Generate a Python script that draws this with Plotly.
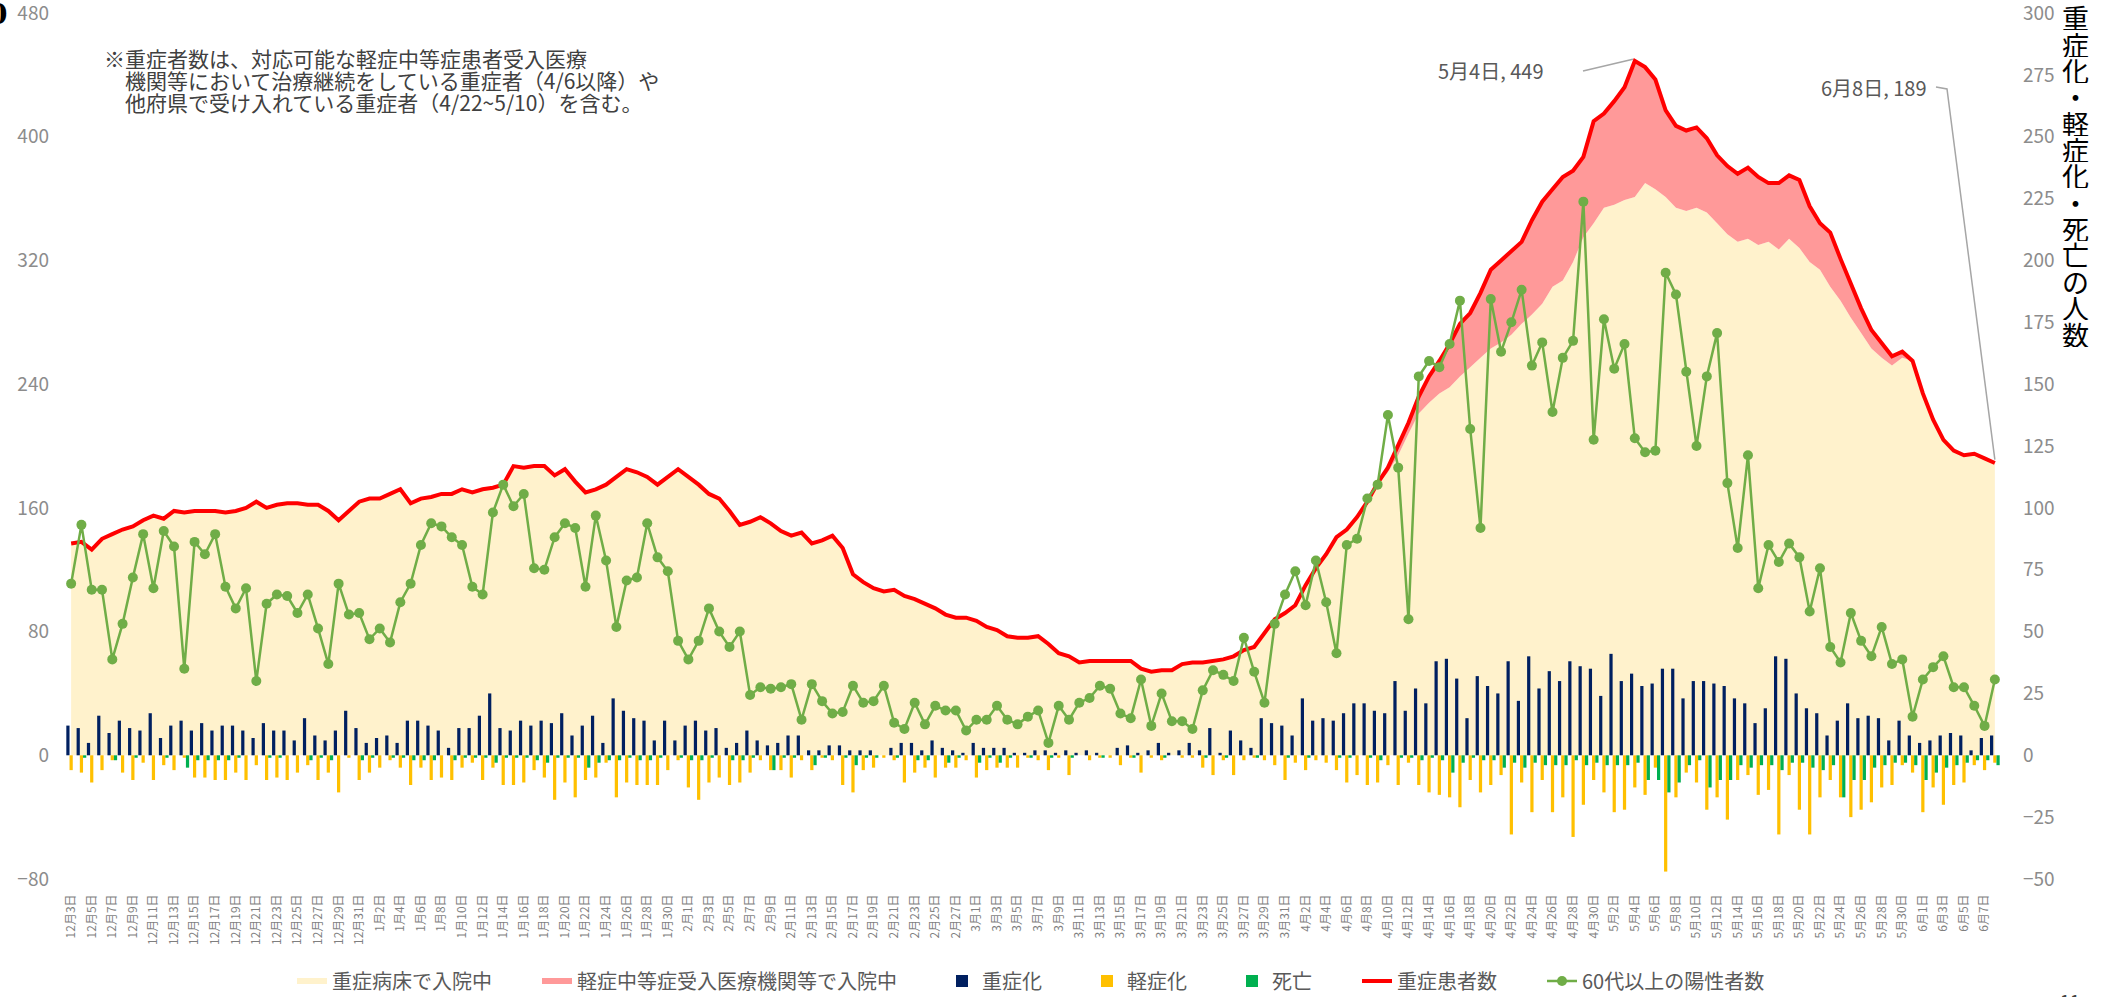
import pandas as pd
import plotly.graph_objects as go

# ---------------- data ----------------
dates = pd.date_range("2020-12-03", "2021-06-08")
categories = [f"{d.month}月{d.day}日" for d in dates]
tick_labels = categories[::2]

# 重症患者数 (left axis)
severe_total = [
    137, 138, 133, 140, 143, 146, 148, 152, 155, 153,
    158, 157, 158, 158, 158, 157, 158, 160, 164, 160,
    162, 163, 163, 162, 162, 158, 152, 158, 164, 166,
    166, 169, 172, 163, 166, 167, 169, 169, 172, 170,
    172, 173, 175, 187, 186, 187, 187, 181, 185, 177,
    170, 172, 175, 180, 185, 183, 180, 175, 180, 185,
    180, 175, 169, 166, 158, 149, 151, 154, 150, 145,
    142, 144, 137, 139, 142, 134, 117, 112, 108, 106,
    107, 103, 101, 98, 95, 91, 89, 89, 87, 83,
    81, 77, 76, 76, 77, 72, 66, 64, 60, 61,
    61, 61, 61, 61, 56, 54, 55, 55, 59, 60,
    60, 61, 62, 64, 68, 70, 79, 88, 92, 97,
    110, 121, 130, 141, 146, 154, 164, 176, 186, 200,
    215, 232, 245, 255, 266, 279, 286, 299, 314, 320,
    326, 332, 346, 358, 366, 374, 378, 387, 410, 415,
    423, 432, 449, 445, 437, 417, 407, 404, 406, 399,
    388, 381, 376, 380, 374, 370, 370, 375, 372, 355,
    344, 338, 321, 305, 289, 275, 267, 258, 261, 255,
    234, 217, 204, 197, 194, 195, 192, 189,
]

# 軽症中等症受入医療機関等で入院中 (part of severe_total)
in_other_hosp = [
    0, 0, 0, 0, 0, 0, 0, 0, 0, 0,
    0, 0, 0, 0, 0, 0, 0, 0, 0, 0,
    0, 0, 0, 0, 0, 0, 0, 0, 0, 0,
    0, 0, 0, 0, 0, 0, 0, 0, 0, 0,
    0, 0, 0, 0, 0, 0, 0, 0, 0, 0,
    0, 0, 0, 0, 0, 0, 0, 0, 0, 0,
    0, 0, 0, 0, 0, 0, 0, 0, 0, 0,
    0, 0, 0, 0, 0, 0, 0, 0, 0, 0,
    0, 0, 0, 0, 0, 0, 0, 0, 0, 0,
    0, 0, 0, 0, 0, 0, 0, 0, 0, 0,
    0, 0, 0, 0, 0, 0, 0, 0, 0, 0,
    0, 0, 0, 0, 0, 0, 0, 0, 0, 0,
    0, 0, 0, 0, 0, 0, 0, 1, 3, 6,
    7, 11, 17, 21, 28, 34, 35, 42, 51, 53,
    54, 53, 61, 66, 63, 67, 59, 52, 66, 61,
    67, 73, 88, 75, 71, 56, 53, 52, 52, 48,
    44, 44, 44, 46, 44, 38, 43, 41, 44, 36,
    30, 35, 27, 22, 16, 12, 10, 6, 4, 0,
    0, 0, 0, 0, 0, 0, 0, 0,
]

# 60代以上の陽性者数 (left axis)
positives_60plus = [
    111, 149, 107, 107, 62, 85, 115, 143, 108, 145,
    135, 56, 138, 130, 143, 109, 95, 108, 48, 98,
    104, 103, 92, 104, 82, 59, 111, 91, 92, 75,
    82, 73, 99, 111, 136, 150, 148, 141, 136, 109,
    104, 157, 175, 161, 169, 121, 120, 141, 150, 147,
    109, 155, 126, 83, 113, 115, 150, 128, 119, 74,
    62, 74, 95, 80, 70, 80, 39, 44, 43, 44,
    46, 23, 46, 35, 27, 28, 45, 34, 35, 45,
    21, 17, 34, 20, 32, 29, 29, 16, 23, 23,
    32, 23, 20, 25, 29, 8, 32, 23, 34, 37,
    45, 43, 27, 24, 49, 19, 40, 22, 22, 17,
    42, 55, 52, 48, 76, 54, 34, 85, 104, 119,
    97, 126, 99, 66, 136, 140, 166, 175, 220, 186,
    88, 245, 255, 251, 266, 294, 211, 147, 295, 261,
    280, 301, 252, 267, 222, 257, 268, 358, 204, 282,
    250, 266, 205, 196, 197, 312, 298, 248, 200, 245,
    273, 176, 134, 194, 108, 136, 125, 137, 128, 93,
    121, 70, 60, 92, 74, 64, 83, 59, 62, 25,
    49, 57, 64, 44, 44, 32, 19, 49,
]

# 重症化 (right axis)
became_severe = [
    12, 11, 5, 16, 9, 14, 11, 10, 17, 7,
    12, 14, 10, 13, 10, 12, 12, 10, 7, 13,
    10, 10, 6, 15, 8, 6, 10, 18, 11, 5,
    7, 8, 5, 14, 14, 12, 10, 3, 11, 11,
    16, 25, 11, 10, 14, 12, 14, 13, 17, 8,
    12, 16, 5, 23, 18, 15, 14, 6, 14, 6,
    12, 14, 10, 11, 3, 5, 10, 6, 4, 5,
    8, 8, 2, 2, 4, 4, 2, 2, 2, 0,
    3, 5, 5, 2, 6, 3, 2, 1, 5, 3,
    3, 3, 1, 1, 2, 2, 1, 2, 1, 2,
    1, 0, 3, 4, 1, 2, 5, 1, 2, 5,
    2, 11, 1, 10, 6, 3, 15, 13, 12, 8,
    23, 14, 15, 14, 17, 21, 21, 18, 17, 30,
    18, 27, 21, 38, 39, 31, 15, 32, 28, 25,
    38, 22, 40, 27, 34, 30, 38, 36, 35, 24,
    41, 30, 33, 28, 29, 35, 35, 23, 30, 30,
    29, 28, 23, 21, 13, 19, 40, 39, 25, 19,
    17, 8, 14, 21, 15, 16, 15, 6, 14, 8,
    5, 6, 8, 9, 8, 2, 7, 8,
]

# 軽症化 (right axis, negative)
became_mild = [
    -6, -7, -11, -6, -2, -7, -10, -3, -10, -4,
    -6, -1, -9, -9, -10, -10, -7, -10, -4, -10,
    -9, -10, -7, -4, -10, -7, -15, -1, -10, -7,
    -5, -2, -5, -12, -5, -10, -9, -10, -5, -3,
    -10, -5, -12, -12, -11, -6, -9, -18, -11, -17,
    -10, -9, -3, -17, -11, -12, -12, -12, -6, -2,
    -13, -18, -11, -9, -12, -11, -7, -2, -6, -6,
    -9, -2, -6, -1, -2, -12, -15, -6, -5, -1,
    -2, -11, -7, -5, -9, -5, -5, -2, -9, -6,
    -5, -5, -5, -1, -2, -6, -1, -8, 0, -2,
    -1, -1, -4, -1, -7, -1, -2, 0, -1, -1,
    -5, -8, -2, -8, -2, -1, -2, -4, -10, -3,
    -6, -2, -3, -6, -11, -8, -12, -11, -4, -12,
    -3, -12, -15, -16, -17, -21, -10, -15, -12, -8,
    -32, -11, -23, -10, -23, -17, -33, -20, -10, -15,
    -23, -22, -13, -16, -5, -47, -17, -7, -11, -22,
    -17, -26, -10, -8, -16, -14, -32, -8, -22, -32,
    -17, -10, -17, -25, -22, -19, -13, -12, -4, -7,
    -23, -13, -20, -12, -11, -4, -6, -3,
]

# 死亡 (right axis, negative)
deaths = [
    0, -1, 0, 0, -2, 0, -1, 0, 0, -1,
    0, -5, -2, -2, -2, -2, -1, 0, 0, -1,
    -1, 0, 0, -2, -1, -2, 0, 0, -2, -1,
    0, -1, -1, -2, -2, -2, 0, -2, -1, -1,
    -1, -3, -1, -1, -1, -2, -3, -1, -1, -1,
    -5, -3, -2, -2, -1, -2, -2, -1, 0, -1,
    -2, -2, -1, 0, -2, -2, -1, 0, -6, -1,
    -1, 0, -4, -1, 0, -1, -4, -1, -1, 0,
    -1, 0, -2, -2, 0, -3, -1, 0, -3, -1,
    -3, -1, 0, -1, 0, -1, 0, -1, 0, 0,
    -1, 0, 0, -1, 0, 0, -1, 0, 0, 0,
    -1, 0, -1, 0, 0, -1, 0, 0, -1, 0,
    -1, 0, 0, -1, -1, 0, -1, -2, 0, -1,
    -1, -2, -1, -2, -7, -3, -1, -2, -2, -5,
    -3, -5, -3, -4, -4, -4, -2, -4, -3, -4,
    -4, -4, -3, -10, -10, -15, -11, -4, -2, -13,
    -10, -10, -4, -5, -4, -4, -6, -3, -3, -5,
    -6, -4, -17, -10, -10, -5, -4, -3, -3, -4,
    -10, -7, -5, -4, -3, -2, -2, -4,
]

series_names = [
    "重症病床で入院中",
    "軽症中等症受入医療機関等で入院中",
    "重症化",
    "軽症化",
    "死亡",
    "重症患者数",
    "60代以上の陽性者数",
]

note_lines = [
    "※重症者数は、対応可能な軽症中等症患者受入医療",
    "　機関等において治療継続をしている重症者（4/6以降）や",
    "　他府県で受け入れている重症者（4/22~5/10）を含む。",
]
right_title = "重症化・軽症化・死亡の人数"

# -------------- derived --------------
in_severe_beds = [t - o for t, o in zip(severe_total, in_other_hosp)]

# -------------- geometry (layout only, page pixels) --------------
W, H = 2105, 997
PLOT_L, PLOT_R, PLOT_T, PLOT_B = 66, 2000, 13, 879
ML, MT, MR, MB = PLOT_L, PLOT_T, W - PLOT_R, H - PLOT_B
PW, PH = PLOT_R - PLOT_L, PLOT_B - PLOT_T
Y1 = (-80, 480)
Y2 = (-50, 300)


def px_x(px):
    return (px - PLOT_L) / PW


def px_y(py):
    return (PLOT_B - py) / PH


FONT = "Noto Sans CJK JP, Noto Sans, sans-serif"
GAP = "\u3000\u3000"  # trailing space between legend entries
legend_names = [n + GAP for n in series_names[:-1]] + [series_names[-1]]

fig = go.Figure()

fig.add_trace(go.Scatter(
    x=categories, y=in_severe_beds, name=legend_names[0],
    stackgroup="beds", mode="none", fillcolor="#FFF2CC", yaxis="y",
))
fig.add_trace(go.Scatter(
    x=categories, y=in_other_hosp, name=legend_names[1],
    stackgroup="beds", mode="none", fillcolor="#FF9999", yaxis="y",
))
fig.add_trace(go.Bar(x=categories, y=became_severe, name=legend_names[2],
                     marker_color="#002060", marker_line_width=0, yaxis="y2"))
fig.add_trace(go.Bar(x=categories, y=became_mild, name=legend_names[3],
                     marker_color="#FFC000", marker_line_width=0, yaxis="y2"))
fig.add_trace(go.Bar(x=categories, y=deaths, name=legend_names[4],
                     marker_color="#00B050", marker_line_width=0, yaxis="y2"))
fig.add_trace(go.Scatter(
    x=categories, y=severe_total, name=legend_names[5], mode="lines",
    line=dict(color="#FF0000", width=4), yaxis="y3",
))
fig.add_trace(go.Scatter(
    x=categories, y=positives_60plus, name=legend_names[6],
    mode="lines+markers", line=dict(color="#70AD47", width=2.5),
    marker=dict(color="#70AD47", size=10), yaxis="y3",
))

annotations = []
for k, line in enumerate(note_lines):
    annotations.append(dict(
        text=line, xref="paper", yref="paper", x=px_x(102), y=px_y(58 + 22 * k),
        xanchor="left", yanchor="middle", showarrow=False,
        font=dict(family=FONT, size=21, color="#404040"),
    ))

# data labels for the peak and the last day
i_peak = severe_total.index(max(severe_total))
i_last = len(severe_total) - 1
lbl_peak = f"{categories[i_peak]}, {severe_total[i_peak]}"
lbl_last = f"{categories[i_last]}, {severe_total[i_last]}"
annotations.append(dict(
    text=lbl_peak, xref="paper", yref="paper", x=px_x(1546), y=px_y(70),
    xanchor="right", yanchor="middle", showarrow=False,
    font=dict(family=FONT, size=20, color="#595959"),
))
annotations.append(dict(
    text=lbl_last, xref="paper", yref="paper", x=px_x(1929), y=px_y(87),
    xanchor="right", yanchor="middle", showarrow=False,
    font=dict(family=FONT, size=20, color="#595959"),
))


def cat_x(i):
    return (i + 0.5) / len(categories)


def val_y(v):
    return (v - Y1[0]) / (Y1[1] - Y1[0])


shapes = [
    dict(type="path", xref="paper", yref="paper",
         path=f"M{px_x(1583)},{px_y(71)} L{cat_x(i_peak) - 0.001},{val_y(severe_total[i_peak]) + 0.002}",
         line=dict(color="#A6A6A6", width=1.5)),
    dict(type="path", xref="paper", yref="paper",
         path=(f"M{px_x(1936)},{px_y(87)} L{px_x(1947)},{px_y(89)} "
               f"L{cat_x(i_last)},{val_y(severe_total[i_last]) + 0.004}"),
         line=dict(color="#A6A6A6", width=1.5)),
]

# right axis title written vertically, one character per line
title_top, title_bottom = 18, 334
pitch = (title_bottom - title_top) / (len(right_title) - 1)
for k, ch in enumerate(right_title):
    annotations.append(dict(
        text=ch, xref="paper", yref="paper", x=px_x(2075), y=px_y(title_top + pitch * k),
        xanchor="center", yanchor="middle", showarrow=False,
        height=25, borderpad=0, valign="middle",
        font=dict(family=FONT, size=27, color="#000000"),
    ))

# cut-off glyph at top-left and page number
annotations.append(dict(
    text="<b>0</b>", xref="paper", yref="paper", x=px_x(9), y=px_y(15),
    xanchor="right", yanchor="middle", showarrow=False,
    font=dict(family="DejaVu Serif", size=28, color="#000000"),
))
annotations.append(dict(
    text="11", xref="paper", yref="paper", x=px_x(2070), y=px_y(985),
    xanchor="center", yanchor="top", showarrow=False,
    font=dict(family=FONT, size=18, color="#404040"),
))

fig.update_layout(
    width=W, height=H,
    margin=dict(l=ML, r=MR, t=MT, b=MB, pad=0, autoexpand=False),
    paper_bgcolor="white", plot_bgcolor="white",
    font=dict(family=FONT),
    barmode="group", bargap=0.06, bargroupgap=0,
    showlegend=True,
    legend=dict(
        orientation="h", x=px_x(292), xanchor="left",
        y=px_y(981), yanchor="middle",
        font=dict(family=FONT, size=20, color="#595959"),
        traceorder="normal", bgcolor="rgba(0,0,0,0)",
    ),
    xaxis=dict(
        type="category", categoryorder="array", categoryarray=categories,
        range=[-0.5, len(categories) - 0.5],
        tickmode="array", tickvals=tick_labels, ticktext=tick_labels,
        tickangle=-90, tickfont=dict(family=FONT, size=12, color="#7F7F7F"),
        showgrid=False, showline=False, zeroline=False, ticks="",
        ticklabelstandoff=12, automargin=False,
    ),
    yaxis=dict(
        range=list(Y1), tickmode="linear", tick0=-80, dtick=80,
        tickfont=dict(family=FONT, size=19, color="#8C8C8C"),
        showgrid=False, zeroline=False, showline=False, ticks="",
        ticklabelstandoff=16, ticklabeloverflow="allow", automargin=False,
    ),
    yaxis2=dict(
        range=list(Y2), overlaying="y", side="right",
        tickmode="linear", tick0=-50, dtick=25,
        tickfont=dict(family=FONT, size=19, color="#8C8C8C"),
        showgrid=False, zeroline=False, showline=False, ticks="",
        ticklabelstandoff=22, ticklabeloverflow="allow", automargin=False,
    ),
    yaxis3=dict(range=list(Y1), overlaying="y", visible=False, automargin=False),
    annotations=annotations,
    shapes=shapes,
)

# remove the browser's default 8 px body margin so the figure fills the page
fig.write_html(
    "out.html",
    config={"displayModeBar": False},
    post_script="document.body.style.margin='0px';document.body.style.overflow='hidden';",
)
